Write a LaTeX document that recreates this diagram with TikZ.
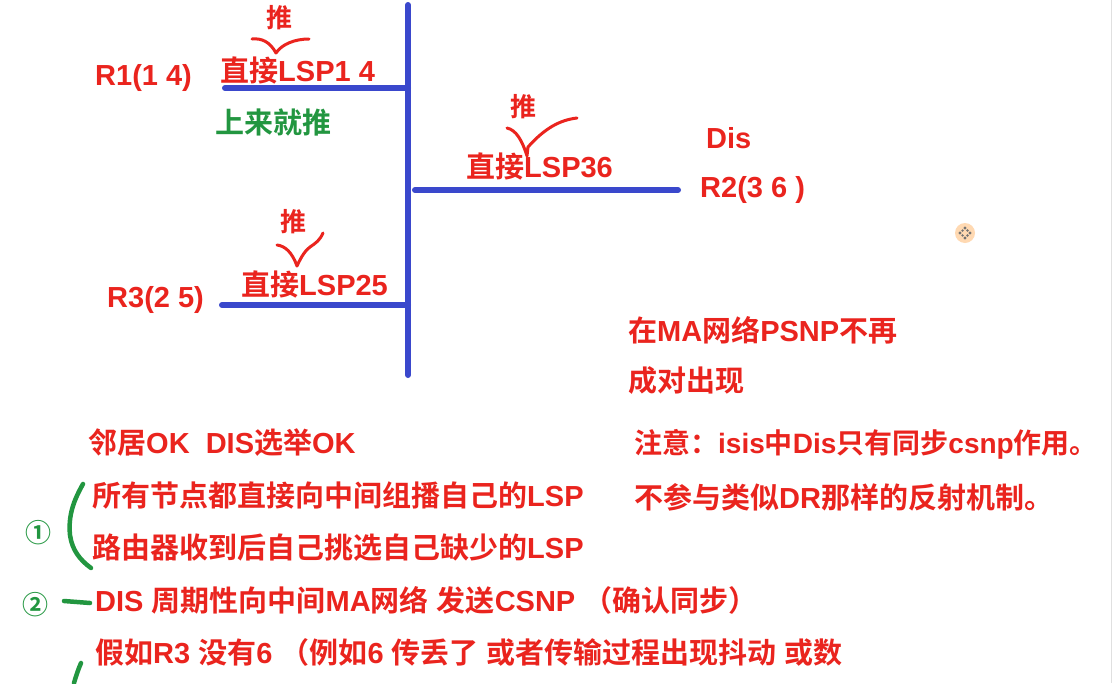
\documentclass[tikz,border=0pt]{standalone}
\usepackage{fontspec}
\usetikzlibrary{calc}
\setmainfont{Liberation Sans}
\newfontfamily\cjfont{Noto Sans CJK SC}[BoldFont=* Bold]
\newcommand\zhtxt[1]{{\cjfont #1}}
\definecolor{tred}{RGB}{234,36,30}
\definecolor{tgreen}{RGB}{34,150,64}
\definecolor{tblue}{RGB}{58,72,204}
\begin{document}
\begin{tikzpicture}[x=1pt,y=-1pt,
  lbl/.style={anchor=west,inner sep=0pt,text=tred,font=\fontsize{29}{33}\selectfont\bfseries},
  glbl/.style={lbl,text=tgreen},
  push/.style={anchor=center,inner sep=0pt,text=tred,font=\fontsize{26}{30}\selectfont\bfseries\cjfont},
  num/.style={anchor=center,inner sep=0pt,text=tgreen,font=\fontsize{26}{30}\selectfont\bfseries\cjfont},
  bus/.style={draw=tblue,line width=6pt,line cap=round},
  tick/.style={draw=tred,line width=3pt,line cap=round,line join=round},
  gstroke/.style={draw=tgreen,line width=4.5pt,line cap=round,line join=round}]
\useasboundingbox (0,0) rectangle (1114,683);
\fill[white] (0,0) rectangle (1114,683);
\draw[black!12,line width=1pt] (1111,0) -- (1111,683);
% bus lines
\coordinate (vt) at (408,5);
\coordinate (vb) at (408,375);
\coordinate (r1a) at (225,88);
\coordinate (r1b) at (408,88);
\coordinate (r2a) at (415,190);
\coordinate (r2b) at (678,190);
\coordinate (r3a) at (222,305);
\coordinate (r3b) at (408,305);
\draw[bus] (vt) -- (vb);
\draw[bus] (r1a) -- (r1b);
\draw[bus] (r2a) -- (r2b);
\draw[bus] (r3a) -- (r3b);
% R1
\node[push] (p1) at (279,18) {推};
\node[lbl] (l1) at (220,70) {\zhtxt{直接}LSP1 4};
\node[lbl] (r1) at (95,78) {R1(1 4)};
\node[glbl] (g1) at (215,122) {\zhtxt{上来就推}};
\draw[tick] (252,39) .. controls (262,38) and (270,42) .. (276,53) .. controls (282,44) and (295,39) .. (309,39);
% R2
\node[push] (p2) at (523,107) {推};
\node[lbl] (l2) at (466,166) {\zhtxt{直接}LSP36};
\node[lbl] (dis) at (706,138) {Dis};
\node[lbl] (r2) at (700,190) {R2(3 6 )};
\draw[tick] (507,128) .. controls (516,130) and (522,140) .. (527,156) -- (528,147) .. controls (545,128) and (560,120) .. (577,118);
% R3
\node[push] (p3) at (293,222) {推};
\node[lbl] (l3) at (241,284) {\zhtxt{直接}LSP25};
\node[lbl] (r3) at (107,300) {R3(2 5)};
\draw[tick] (277,245) .. controls (285,246) and (292,252) .. (297,266) .. controls (302,255) and (306,250) .. (310,247) .. controls (316,243) and (320,240) .. (323,233);
% right texts
\node[lbl] (ma1) at (628,330) {\zhtxt{在}MA\zhtxt{网络}PSNP\zhtxt{不再}};
\node[lbl] (ma2) at (628,381) {\zhtxt{成对出现}};
\node[lbl,font=\fontsize{28}{32}\selectfont\bfseries] (n1) at (634,444) {\zhtxt{注意：}isis\zhtxt{中}Dis\zhtxt{只有同步}csnp\zhtxt{作用。}};
\node[lbl] (n2) at (634,497) {\zhtxt{不参与类似}DR\zhtxt{那样的反射机制。}};
% left texts
\node[lbl] (s0) at (88,443) {\zhtxt{邻居}OK\ \ DIS\zhtxt{选举}OK};
\node[lbl] (s1) at (92,495) {\zhtxt{所有节点都直接向中间组播自己的}LSP};
\node[lbl] (s2) at (92,548) {\zhtxt{路由器收到后自己挑选自己缺少的}LSP};
\node[lbl] (s3) at (95,600) {DIS \zhtxt{周期性向中间}MA\zhtxt{网络} \zhtxt{发送}CSNP \zhtxt{（确认同步）}};
\node[lbl] (s4) at (95,652) {\zhtxt{假如}R3 \zhtxt{没有}6 \zhtxt{（例如}6 \zhtxt{传丢了} \zhtxt{或者传输过程出现抖动} \zhtxt{或数}};
% green marks
\node[num] (c1) at (38,533) {①};
\node[num] (c2) at (35,605) {②};
\draw[gstroke] (83,484) .. controls (74,500) and (68,515) .. (70,535) .. controls (72,550) and (80,560) .. (91,568);
\draw[gstroke] (64,601) -- (90,603);
\draw[gstroke] (81,663) .. controls (78,670) and (76,676) .. (74,683);
% cursor
\fill[orange!30] (965,233) circle (10);
\foreach \a in {0,90,180,270}{
  \fill[black!55] ($(965,233)+(\a:5)$) circle (1.6);
  \fill[black!55] ($(965,233)+(\a+45:3.5)$) circle (1.3);
}
\end{tikzpicture}
\end{document}
